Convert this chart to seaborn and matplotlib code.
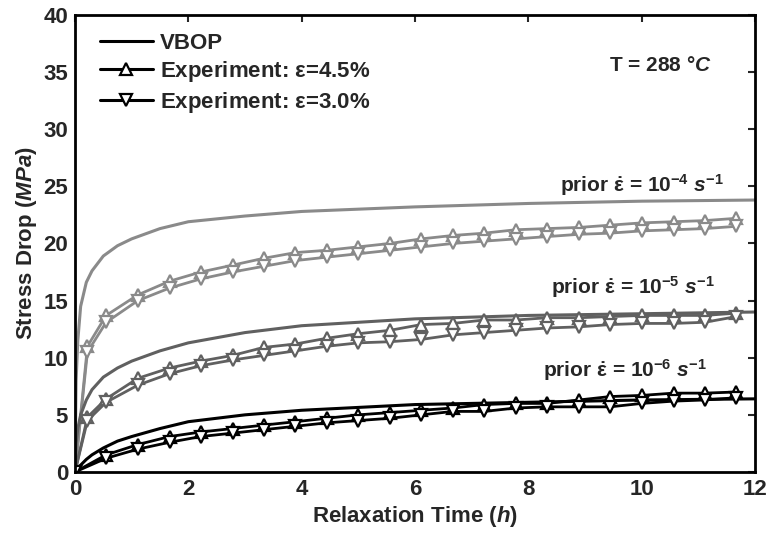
import numpy as np
import pandas as pd
import matplotlib
matplotlib.use("Agg")
import matplotlib.pyplot as plt
from matplotlib.lines import Line2D
import seaborn as sns

# ---------------- data ----------------
t_exp = [0, 0.22, 0.55, 1.11, 1.67, 2.22, 2.78, 3.33, 3.89, 4.44, 5.0, 5.56,
         6.11, 6.67, 7.22, 7.78, 8.33, 8.89, 9.44, 10.0, 10.56, 11.11, 11.67]
t_exp_r6 = [0, 0.55, 1.11, 1.67, 2.22, 2.78, 3.33, 3.89, 4.44, 5.0, 5.56,
            6.11, 6.67, 7.22, 7.78, 8.33, 8.89, 9.44, 10.0, 10.56, 11.11, 11.67]

# prior strain rate 1e-4
exp45_r4 = [0, 11.0, 13.7, 15.5, 16.7, 17.5, 18.1, 18.7, 19.2, 19.4, 19.7, 20.0,
            20.4, 20.7, 20.9, 21.2, 21.3, 21.4, 21.6, 21.8, 21.9, 22.0, 22.2]
exp30_r4 = [0, 10.5, 13.1, 15.0, 16.1, 16.9, 17.5, 18.0, 18.5, 18.8, 19.1, 19.4,
            19.7, 20.0, 20.2, 20.4, 20.6, 20.8, 20.9, 21.1, 21.2, 21.3, 21.5]
# prior strain rate 1e-5
exp45_r5 = [0, 4.8, 6.4, 8.2, 9.1, 9.7, 10.2, 10.9, 11.2, 11.7, 12.1, 12.4,
            12.9, 13.0, 13.3, 13.3, 13.5, 13.5, 13.6, 13.7, 13.7, 13.7, 13.9]
exp30_r5 = [0, 4.5, 6.1, 7.6, 8.6, 9.3, 9.8, 10.2, 10.6, 11.0, 11.3, 11.4,
            11.6, 12.0, 12.2, 12.4, 12.6, 12.7, 12.9, 13.0, 13.0, 13.1, 13.6]
# prior strain rate 1e-6
exp45_r6 = [0, 1.5, 2.4, 3.1, 3.5, 3.8, 4.1, 4.4, 4.7, 5.0, 5.2,
            5.4, 5.6, 5.9, 6.0, 6.0, 6.3, 6.6, 6.7, 6.9, 6.9, 7.0]
exp30_r6 = [0, 1.2, 2.0, 2.6, 3.1, 3.4, 3.7, 4.0, 4.3, 4.5, 4.7,
            5.0, 5.3, 5.3, 5.6, 5.7, 5.7, 5.7, 6.0, 6.2, 6.3, 6.5]

t_model = [0, 0.02, 0.05, 0.1, 0.2, 0.3, 0.5, 0.75, 1.0, 1.5, 2.0, 3.0, 4.0,
           6.0, 8.0, 10.0, 12.0]
vbop_r4 = [0, 8.0, 11.5, 14.5, 16.6, 17.6, 18.9, 19.8, 20.4, 21.3, 21.9, 22.4,
           22.8, 23.2, 23.5, 23.7, 23.8]
vbop_r5 = [0, 2.5, 3.8, 5.0, 6.3, 7.2, 8.3, 9.1, 9.7, 10.6, 11.3, 12.2, 12.8,
           13.4, 13.7, 13.85, 14.0]
vbop_r6 = [0, 0.15, 0.35, 0.6, 1.1, 1.5, 2.1, 2.7, 3.1, 3.8, 4.4, 5.0, 5.4,
           5.9, 6.1, 6.3, 6.4]

rate_labels = [r"prior $\dot{\mathrm{\varepsilon}}$ = 10$^{\mathbf{-4}}$ $s^{\mathbf{-1}}$",
               r"prior $\dot{\mathrm{\varepsilon}}$ = 10$^{\mathbf{-5}}$ $s^{\mathbf{-1}}$",
               r"prior $\dot{\mathrm{\varepsilon}}$ = 10$^{\mathbf{-6}}$ $s^{\mathbf{-1}}$"]
legend_labels = ["VBOP", r"Experiment: $\mathregular{\varepsilon}$=4.5%",
                 r"Experiment: $\mathregular{\varepsilon}$=3.0%"]
x_ticks = [0, 2, 4, 6, 8, 10, 12]
y_ticks = [0, 5, 10, 15, 20, 25, 30, 35, 40]

# ---------------- style ----------------
sns.set_theme(style="white")
plt.rcParams["font.family"] = ["Liberation Sans", "DejaVu Sans"]
plt.rcParams["mathtext.fontset"] = "custom"
plt.rcParams["mathtext.rm"] = "Liberation Sans:bold"
plt.rcParams["mathtext.it"] = "Liberation Sans:italic:bold"
plt.rcParams["mathtext.bf"] = "Liberation Sans:bold"

colors = ["#8a8a8a", "#606060", "#000000"]

fig = plt.figure(figsize=(7.69, 5.33), dpi=100)
ax = fig.add_axes([0.0975, 0.1145, 0.8845, 0.8575])

groups = [(t_exp, vbop_r4, exp45_r4, exp30_r4),
          (t_exp, vbop_r5, exp45_r5, exp30_r5),
          (t_exp_r6, vbop_r6, exp45_r6, exp30_r6)]

for (te, vb, e45, e30), c in zip(groups, colors):
    sns.lineplot(x=t_model, y=vb, ax=ax, color=c, lw=2.2, sort=False,
                 estimator=None)
    sns.lineplot(x=te, y=e45, ax=ax, color=c, lw=2.0, sort=False,
                 estimator=None, marker="^", markersize=8, markerfacecolor="white",
                 markeredgecolor=c, markeredgewidth=1.6)
    sns.lineplot(x=te, y=e30, ax=ax, color=c, lw=2.0, sort=False,
                 estimator=None, marker="v", markersize=8, markerfacecolor="white",
                 markeredgecolor=c, markeredgewidth=1.6)

ax.set_xlim(0, 12)
ax.set_ylim(0, 40)
ax.set_xticks(x_ticks)
ax.set_yticks(y_ticks)
ax.tick_params(direction="in", length=5, width=1.5, top=True, right=True,
               labelsize=16, pad=5)
for lab in ax.get_xticklabels() + ax.get_yticklabels():
    lab.set_fontweight("bold")
for s in ax.spines.values():
    s.set_linewidth(2.0)
    s.set_color("black")

ax.set_xlabel(r"Relaxation Time ($\mathit{h}$)", fontsize=16, fontweight="bold",
              labelpad=3)
ax.set_ylabel(r"Stress Drop ($\mathit{MPa}$)", fontsize=16, fontweight="bold",
              labelpad=3)

# annotations
ax.text(11.23, 35.6, r"T = 288 $\it{°C}$", fontsize=15, ha="right", va="center",
        fontweight="bold")
ax.text(11.46, 25.1, rate_labels[0], fontsize=15, ha="right", va="center",
        fontweight="bold")
ax.text(11.3, 16.2, rate_labels[1], fontsize=15, ha="right", va="center",
        fontweight="bold")
ax.text(11.15, 8.9, rate_labels[2], fontsize=15, ha="right", va="center",
        fontweight="bold")

handles = [Line2D([], [], color="black", lw=2.2),
           Line2D([], [], color="black", lw=2.2, marker="^", markersize=8,
                  markerfacecolor="white", markeredgewidth=1.6),
           Line2D([], [], color="black", lw=2.2, marker="v", markersize=8,
                  markerfacecolor="white", markeredgewidth=1.6)]
leg = ax.legend(handles, legend_labels, loc="upper left", frameon=False,
                fontsize=16, handlelength=2.4, handletextpad=0.3,
                labelspacing=0.25, borderaxespad=0.4,
                bbox_to_anchor=(0.01, 1.0))
for txt in leg.get_texts():
    txt.set_fontweight("bold")

fig.savefig("out.png", dpi=100)
